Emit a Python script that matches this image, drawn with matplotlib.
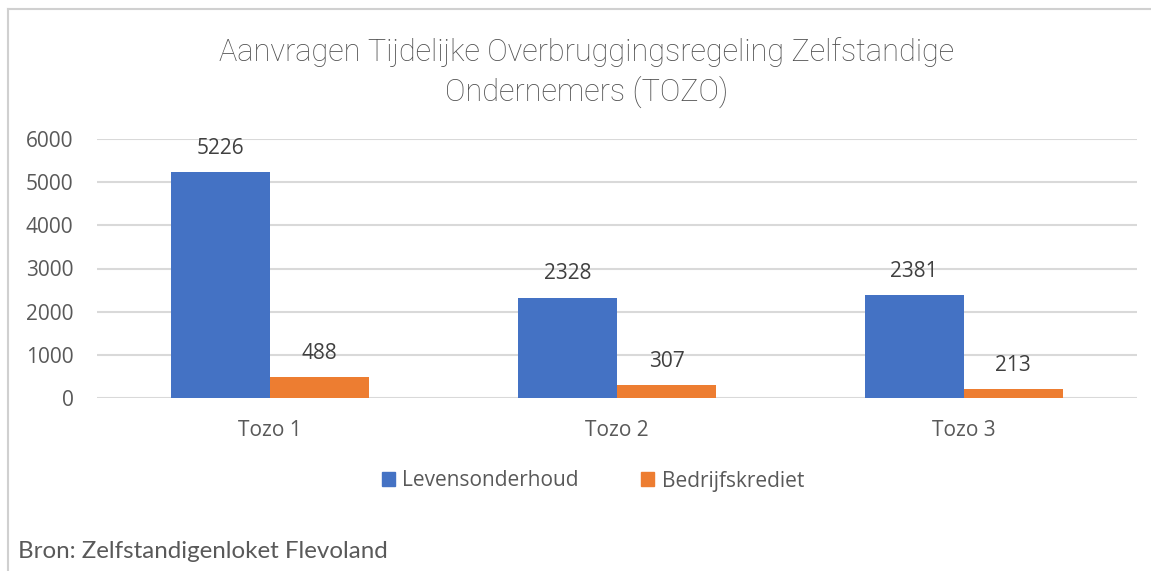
import matplotlib.pyplot as plt
import numpy as np
from matplotlib.patches import Patch
from matplotlib.lines import Line2D

categories = ['Tozo 1', 'Tozo 2', 'Tozo 3']
levensonderhoud = [5226, 2328, 2381]
bedrijfskrediet = [488, 307, 213]
series_names = ['Levensonderhoud', 'Bedrijfskrediet']
yticks = [0, 1000, 2000, 3000, 4000, 5000, 6000]

blue = '#4472C4'
orange = '#ED7D31'
grid_col = '#D9D9D9'
txt_col = '#595959'

plt.rcParams['font.family'] = ['Open Sans', 'DejaVu Sans']

fig = plt.figure(figsize=(11.51, 5.71), dpi=100)
ax = fig.add_axes([97/1151, 1-398/571, 1040/1151, 259/571])

x = np.arange(len(categories))
w = 0.2857
b1 = ax.bar(x - w/2, levensonderhoud, w, color=blue, zorder=3)
b2 = ax.bar(x + w/2, bedrijfskrediet, w, color=orange, zorder=3)

for bars in (b1, b2):
    for r in bars:
        ax.annotate(str(int(r.get_height())), (r.get_x() + r.get_width()/2, r.get_height()),
                    xytext=(0, 9.5), textcoords='offset points', ha='center', va='bottom',
                    fontsize=15, color='#404040')

ax.set_xlim(-0.5, 2.5)
ax.set_ylim(0, 6000)
ax.set_yticks(yticks)
ax.set_xticks(x)
ax.set_xticklabels(categories)
ax.tick_params(axis='both', length=0, labelsize=15, labelcolor=txt_col)
ax.tick_params(axis='y', pad=17)
ax.tick_params(axis='x', pad=16)
ax.yaxis.grid(True, color=grid_col, linewidth=1.5, zorder=0)
for s in ax.spines.values():
    s.set_visible(False)

handles = [Patch(color=blue), Patch(color=orange)]
fig.legend(handles, series_names, loc='center', bbox_to_anchor=(593/1151, 1-481/571),
           ncol=2, frameon=False, fontsize=15, handlelength=0.62, handleheight=0.62,
           handletextpad=0.35, columnspacing=3.0, labelcolor=txt_col)

fig.text(587/1151, 1-52/571, 'Aanvragen Tijdelijke Overbruggingsregeling Zelfstandige',
         ha='center', va='center', fontsize=22.1, color='#4F4F4F',
         family=['Roboto', 'DejaVu Sans'], fontweight='light')
fig.text(587/1151, 1-92/571, 'Ondernemers (TOZO)',
         ha='center', va='center', fontsize=22.1, color='#4F4F4F',
         family=['Roboto', 'DejaVu Sans'], fontweight='light')
fig.text(18/1151, 1-551/571, 'Bron: Zelfstandigenloket Flevoland', ha='left', va='center',
         fontsize=17.4, color=txt_col, family=['Lato', 'DejaVu Sans'])

# chart border (top and left)
fig.add_artist(Line2D([8/1151, 1], [1-9/571, 1-9/571], color='#D0D0D0', linewidth=1.5))
fig.add_artist(Line2D([8/1151, 8/1151], [0, 1-9/571], color='#D0D0D0', linewidth=1.5))

fig.savefig('out.png', dpi=100)
